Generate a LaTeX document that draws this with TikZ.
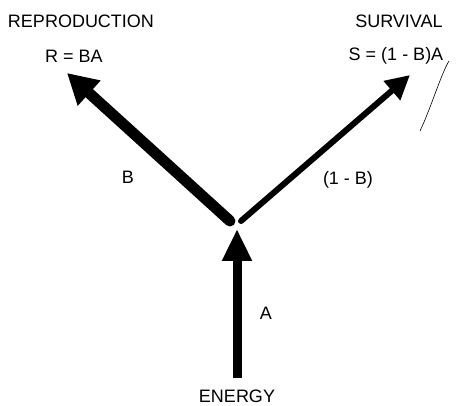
\documentclass[tikz,border=0pt]{standalone}
\usepackage{fontspec}
\setmainfont{Liberation Sans}
\usetikzlibrary{arrows.meta}
\begin{document}
\begin{tikzpicture}[x=1pt,y=-1pt,
  lbl/.style={inner sep=0pt,font=\fontsize{18}{20}\selectfont},
  thickarrow/.style={line cap=round}]
\useasboundingbox[fill=white] (0,0) rectangle (456,406);
% labels
\node[lbl] (repro) at (81,21) {REPRODUCTION};
\node[lbl] (rba) at (74,56) {R = BA};
\node[lbl] (surv) at (399,21) {SURVIVAL};
\node[lbl] (sba) at (396,56) {S = (1 - B)A};
\node[lbl] (lb) at (128,177) {B};
\node[lbl] (l1b) at (348,180) {(1 - B)};
\node[lbl] (la) at (266,313) {A};
\node[lbl] (energy) at (237,396) {ENERGY};
% coordinates
\coordinate (jl) at (230,221);
\coordinate (jr) at (241,221);
\coordinate (tl) at (67,73);
\coordinate (tr) at (410,75);
\coordinate (eb) at (237,378);
\coordinate (et) at (237,229);
% arrows
\draw[thickarrow,line width=11pt,-{Triangle[length=30pt,width=32pt]}] (jl) -- (tl);
\draw[thickarrow,line width=6pt,-{Triangle[length=24pt,width=24pt]}] (jr) -- (tr);
\draw[line width=9pt,-{Triangle[length=32pt,width=28pt]}] (eb) -- (et);
% scribble
\draw[line width=0.6pt] (449,61) .. controls (441,74) and (431,108) .. (420,131);
\end{tikzpicture}
\end{document}
